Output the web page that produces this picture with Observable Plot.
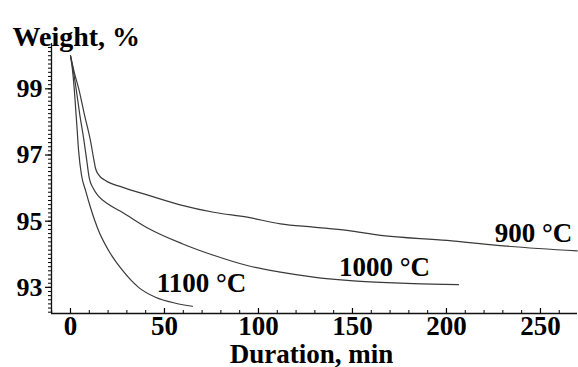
<!DOCTYPE html>
<html>
<head>
<meta charset="utf-8">
<script src="https://cdn.jsdelivr.net/npm/d3@7"></script>
<script src="https://cdn.jsdelivr.net/npm/@observablehq/plot@0.6"></script>
<style>
  html, body { margin: 0; padding: 0; background: #fff; }
  svg { display: block; }
</style>
</head>
<body>
<div id="chart"></div>
<script>
// Isothermal weight loss curves: duration (min) vs weight (%)
const time900 = [0, 2, 4.4, 7.5, 10.6, 12.3, 13.3, 15, 18.6, 27.5, 41.6, 59.4, 76.1, 94, 111.7, 129.3, 147.2, 164.9, 200.4, 227, 269.5];
const weight900 = [100.0, 99.5, 99.0, 98.2, 97.44, 96.9, 96.6, 96.4, 96.23, 96.03, 95.78, 95.48, 95.27, 95.12, 94.92, 94.82, 94.72, 94.57, 94.42, 94.27, 94.10];

const time1000 = [0, 1.5, 3, 5, 7, 8.5, 10, 12, 15, 20, 27.5, 41.5, 59.4, 76.1, 94, 111.7, 129.3, 147.2, 165, 182.4, 206.4];
const weight1000 = [100.0, 99.55, 99.0, 98.2, 97.5, 96.9, 96.3, 96.0, 95.75, 95.52, 95.27, 94.78, 94.32, 93.97, 93.66, 93.46, 93.31, 93.21, 93.15, 93.11, 93.08];

const time1100 = [0, 1, 2, 2.7, 3.5, 4.3, 5.9, 8, 10.6, 14.9, 20.2, 27.7, 36.2, 45.2, 55.9, 64.9];
const weight1100 = [100.0, 99.6, 99.0, 98.44, 97.8, 97.14, 96.38, 95.93, 95.42, 94.72, 94.12, 93.51, 93.0, 92.70, 92.52, 92.43];

// Curve labels and their anchor points in data units
const labelText = ["900 °C", "1000 °C", "1100 °C"];
const labelTime = [246.3, 167, 69.7];
const labelWeight = [94.63, 93.6, 93.12];

// Axis ticks
const xTicks = [0, 50, 100, 150, 200, 250];
const xMinorTicks = d3.range(-10, 270, 10);
const yTicks = [93, 95, 97, 99];
const yMinorTicks = d3.range(92.25, 100.37, 0.125);
const xDomain = [-10.1, 269.7];
const yDomain = [92.21, 100.37];

const toRows = (ts, ws) => ts.map((t, i) => ({t, w: ws[i]}));
const series = [toRows(time900, weight900), toRows(time1000, weight1000), toRows(time1100, weight1100)];
const labels = labelText.map((text, i) => ({text, t: labelTime[i], w: labelWeight[i]}));

const font = "'Liberation Serif', 'Times New Roman', serif";

const chart = Plot.plot({
  width: 578,
  height: 367,
  marginTop: 43,
  marginLeft: 51,
  marginRight: 1,
  marginBottom: 54,
  style: {fontFamily: font, fontWeight: "bold", fontSize: "25px", color: "#000", background: "#fff"},
  x: {domain: xDomain},
  y: {domain: yDomain},
  marks: [
    // minor and major ticks
    Plot.axisY(yMinorTicks, {tickSize: 3, text: null, label: null, strokeWidth: 1}),
    Plot.axisY(yTicks, {tickSize: 6, tickPadding: 3, label: null, strokeWidth: 1.2, fontSize: 26}),
    Plot.axisX(xMinorTicks.filter(d => d >= xDomain[0]), {tickSize: -3, text: null, label: null, strokeWidth: 1}),
    Plot.axisX(xTicks, {tickSize: -5, text: null, label: null, strokeWidth: 1.2}),
    Plot.axisX(xTicks, {tickSize: 0, tickPadding: 2, label: null, fontSize: 27}),
    // axis lines
    Plot.ruleX([xDomain[0]], {stroke: "#111", strokeWidth: 1.3}),
    Plot.ruleY([yDomain[0]], {stroke: "#111", strokeWidth: 1.3}),
    // curves
    ...series.map(rows => Plot.line(rows, {x: "t", y: "w", stroke: "#3a3a3a", strokeWidth: 1.2, curve: "monotone-x"})),
    // curve labels
    Plot.text(labels, {x: "t", y: "w", text: "text", fontSize: 27, fontWeight: "bold", fill: "#000"}),
    // axis titles
    Plot.text(["Weight, %"], {frameAnchor: "top-left", text: d => d, dx: -39, dy: -17, textAnchor: "start", fontSize: 28, fontWeight: "bold"}),
    Plot.text(["Duration, min"], {frameAnchor: "bottom", text: d => d, dx: -3, dy: 49, fontSize: 27, fontWeight: "bold"})
  ]
});

document.getElementById("chart").appendChild(chart);
</script>
</body>
</html>
